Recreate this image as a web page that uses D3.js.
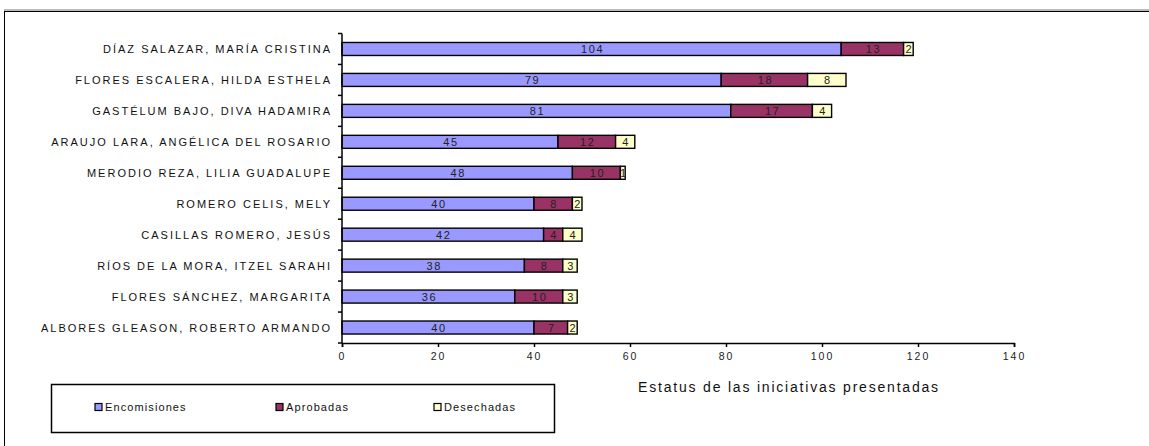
<!DOCTYPE html>
<html><head><meta charset="utf-8">
<script src="https://cdn.jsdelivr.net/npm/d3@7"></script>
<style>body{margin:0;background:#fff}svg{display:block}text{font-family:"Liberation Sans",Arial,sans-serif}</style>
</head><body>
<svg id="c" width="1149" height="446"></svg>
<script>
const categories = [
  "DÍAZ SALAZAR, MARÍA CRISTINA",
  "FLORES ESCALERA, HILDA ESTHELA",
  "GASTÉLUM BAJO, DIVA HADAMIRA",
  "ARAUJO LARA, ANGÉLICA DEL ROSARIO",
  "MERODIO REZA, LILIA GUADALUPE",
  "ROMERO CELIS, MELY",
  "CASILLAS ROMERO, JESÚS",
  "RÍOS DE LA MORA, ITZEL SARAHI",
  "FLORES SÁNCHEZ, MARGARITA",
  "ALBORES GLEASON, ROBERTO ARMANDO"
];
const enComisiones = [104, 79, 81, 45, 48, 40, 42, 38, 36, 40];
const aprobadas    = [13, 18, 17, 12, 10, 8, 4, 8, 10, 7];
const desechadas   = [2, 8, 4, 4, 1, 2, 4, 3, 3, 2];
const seriesNames  = ["Encomisiones", "Aprobadas", "Desechadas"];
const seriesColors = ["#9999FF", "#993366", "#FFFFCC"];
const xTicks = [0, 20, 40, 60, 80, 100, 120, 140];
const axisTitle = "Estatus de las iniciativas presentadas";

const svg = d3.select("#c");
// outer frame
svg.append("rect").attr("x",4.5).attr("y",11.5).attr("width",1160).attr("height",460)
  .attr("fill","none").attr("stroke","#000").attr("stroke-width",1);
svg.append("line").attr("x1",4).attr("x2",1149).attr("y1",10).attr("y2",10).attr("stroke","#777").attr("stroke-width",1);

const x = d3.scaleLinear().domain([0,140]).range([342,1014]);
const y = d3.scaleBand().domain(categories).range([33.5,343]).paddingInner(0.58).paddingOuter(0.29);

const rows = categories.map((c,i)=>({cat:c, vals:[enComisiones[i], aprobadas[i], desechadas[i]]}));
const stack = d3.stack().keys([0,1,2]).value((d,k)=>d.vals[k]);
const layers = stack(rows);

const g = svg.append("g");
layers.forEach((layer,k)=>{
  const lg = g.append("g");
  lg.selectAll("rect").data(layer).join("rect")
    .attr("x", d=>x(d[0])).attr("y", d=>y(d.data.cat))
    .attr("width", d=>x(d[1])-x(d[0])).attr("height", y.bandwidth())
    .attr("fill", seriesColors[k]).attr("stroke","#000").attr("stroke-width",1.4);
  lg.selectAll("text").data(layer).join("text")
    .attr("x", d=>(x(d[0])+x(d[1]))/2 + 1).attr("y", d=>y(d.data.cat)+y.bandwidth()/2+4)
    .attr("text-anchor","middle").attr("font-size",11).attr("fill","#222")
    .attr("letter-spacing",1.6)
    .text(d=>d[1]-d[0]);
});

// left axis
svg.append("line").attr("x1",342).attr("x2",342).attr("y1",33.5).attr("y2",343).attr("stroke","#000").attr("stroke-width",1.5);
const bounds = d3.range(categories.length+1).map(i=>33.5+i*(343-33.5)/categories.length);
svg.selectAll(".yt").data(bounds).join("line").attr("class","yt")
  .attr("x1",338).attr("x2",342).attr("y1",d=>d).attr("y2",d=>d).attr("stroke","#000").attr("stroke-width",1.5);
svg.selectAll(".cl").data(categories).join("text").attr("class","cl")
  .attr("x",332).attr("y",d=>y(d)+y.bandwidth()/2+4).attr("text-anchor","end")
  .attr("font-size",11).attr("letter-spacing",2).attr("fill","#111").text(d=>d);

// bottom axis
const xAxis = d3.axisBottom(x).tickValues(xTicks).tickSize(4).tickPadding(6);
const ax = svg.append("g").attr("transform","translate(0,343)").call(xAxis);
ax.select(".domain").attr("stroke","#000").attr("stroke-width",1.5);
ax.selectAll(".tick line").attr("stroke","#000").attr("stroke-width",1.5);
ax.selectAll(".tick text").attr("font-family","Liberation Sans, Arial, sans-serif").attr("font-size",10.5).attr("letter-spacing",2).attr("fill","#222");

svg.append("text").attr("x",789).attr("y",392).attr("text-anchor","middle")
  .attr("font-size",14).attr("letter-spacing",1.8).attr("fill","#111").text(axisTitle);

// legend
svg.append("rect").attr("x",51.5).attr("y",384.5).attr("width",503).attr("height",48)
  .attr("fill","#fff").attr("stroke","#000").attr("stroke-width",1.5);
const legX = [95, 276, 434];
const lg = svg.selectAll(".lg").data(seriesNames).join("g").attr("class","lg")
  .attr("transform",(d,i)=>`translate(${legX[i]},407)`);
lg.append("rect").attr("x",0).attr("y",-3.5).attr("width",7).attr("height",7)
  .attr("fill",(d,i)=>seriesColors[i]).attr("stroke","#000").attr("stroke-width",1.2);
lg.append("text").attr("x",10).attr("y",4).attr("font-size",11).attr("letter-spacing",1.1).attr("fill","#111").text(d=>d);
</script>
</body></html>
